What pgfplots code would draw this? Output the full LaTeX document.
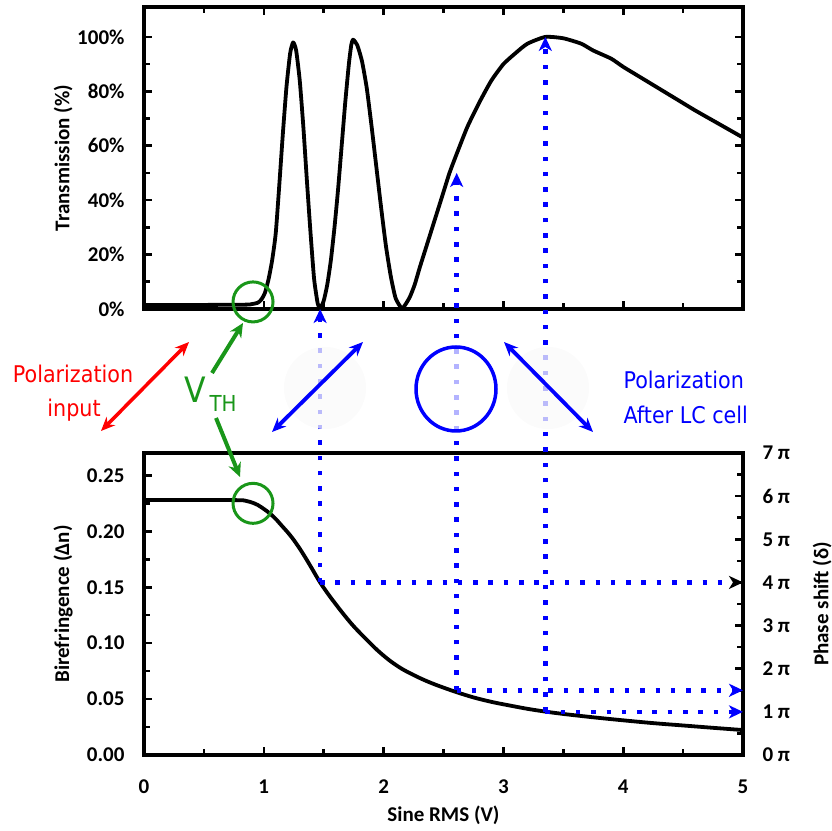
\documentclass[border=0pt]{standalone}
\usepackage{pgfplots}
\pgfplotsset{compat=1.18}
\usepackage{pgfplotstable}
\usepackage{fontspec}
\setmainfont{Carlito}
\newfontfamily\annfont[FakeStretch=0.9]{DejaVu Sans}
\usetikzlibrary{arrows.meta}

\definecolor{lcblue}{RGB}{0,0,255}
\definecolor{lcgreen}{RGB}{25,150,25}
\definecolor{lcred}{RGB}{255,0,0}

\pgfplotstableread{
x T
0.00 1.5
0.50 1.5
0.85 1.6
0.90 1.8
0.95 2.3
0.98 3.5
1.01 6
1.04 11
1.07 18
1.10 28
1.13 46
1.16 65
1.19 82
1.22 94
1.245 98
1.27 95
1.30 84
1.33 67
1.36 47
1.39 28
1.42 11
1.45 2
1.47 0.3
1.50 3
1.53 9
1.56 18
1.59 30
1.62 44
1.65 60
1.68 76
1.71 90
1.73 97
1.745 99
1.78 97
1.82 91
1.86 81
1.90 67
1.94 52
1.98 37
2.02 23
2.06 12
2.10 4
2.15 0.3
2.18 1.5
2.22 4.5
2.26 9
2.30 15
2.35 22
2.40 29
2.45 36
2.50 43
2.55 50
2.61 57
2.70 67
2.80 76
2.90 84
3.00 90
3.10 94
3.20 97.5
3.35 100
3.50 99.5
3.65 97.5
3.75 95
3.90 92
4.00 89
4.15 85
4.30 81
4.45 77
4.60 73
4.80 68
5.00 63
}\transdata

\pgfplotstableread{
x dn
0.00 0.2280
0.50 0.2280
0.80 0.2278
0.85 0.2272
0.90 0.2258
0.95 0.2235
1.00 0.2200
1.05 0.2160
1.10 0.2110
1.15 0.2050
1.20 0.1990
1.245 0.1930
1.30 0.1845
1.35 0.1760
1.40 0.1670
1.47 0.1543
1.55 0.1420
1.65 0.1280
1.745 0.1157
1.85 0.1040
1.95 0.0935
2.05 0.0845
2.15 0.0772
2.25 0.0715
2.35 0.0665
2.45 0.0622
2.60 0.0565
2.75 0.0515
2.90 0.0475
3.05 0.0443
3.20 0.0413
3.35 0.0388
3.50 0.0367
3.75 0.0337
4.00 0.0310
4.25 0.0285
4.50 0.0264
4.75 0.0243
5.00 0.0223
}\dndata

\newcommand\tickfont{\fontsize{21}{25}\selectfont\bfseries}
\newcommand\labfont{\fontsize{21}{25}\selectfont\bfseries}

\pgfplotsset{
  lcaxis/.style={
    scale only axis, width=599pt, height=302pt,
    xmin=0, xmax=5,
    axis line style={line width=3.6pt, line cap=rect},
    every tick/.style={black, line width=2.6pt},
    major tick length=8pt, minor tick length=6pt,
    tick align=inside,
    ticklabel style={font=\tickfont},
    /pgf/number format/assume math mode=true,
    clip=false,
  }
}
\tikzset{
  bdot/.style={lcblue, line width=4.5pt, dash pattern=on 4.5pt off 10.8pt},
  btip/.style={-{Stealth[length=14pt,width=13pt,inset=4pt]}},
}

\begin{document}
\begin{tikzpicture}
\useasboundingbox (0pt,0pt) rectangle (832pt,830pt);

% ---------- top axis ----------
\begin{axis}[lcaxis, at={(144pt,521pt)}, anchor=south west,
  ymin=0, ymax=111,
  ytick={0,20,40,60,80,100}, minor ytick={10,30,50,70,90},
  yticklabel={\pgfmathprintnumber{\tick}\%},
  yticklabel style={xshift=-16pt},
  xtick={0,1,2,3,4,5}, minor xtick={0.5,1.5,2.5,3.5,4.5}, xticklabels={},
  xtick pos=both, ytick pos=both,
  ylabel={Transmission (\%)},
  every axis y label/.style={at={(axis description cs:-0.135,0.5)}, rotate=90, anchor=center, font=\labfont},
]
\addplot[black, line width=3.8pt, line join=round, smooth, tension=0.35] table[x=x,y=T]{\transdata};
\coordinate (t1) at (axis cs:1.47,0);
\coordinate (t2) at (axis cs:2.61,50);
\coordinate (t3) at (axis cs:3.35,100);
\coordinate (tc) at (axis cs:0.91,2.6);
\end{axis}

% ---------- bottom axis (left) ----------
\begin{axis}[lcaxis, at={(144pt,75pt)}, anchor=south west,
  ymin=0, ymax=0.27,
  ytick={0,0.05,0.10,0.15,0.20,0.25},
  yticklabels={0.00,0.05,0.10,0.15,0.20,0.25},
  minor ytick={0.025,0.075,0.125,0.175,0.225},
  yticklabel style={xshift=-16pt},
  xtick={0,1,2,3,4,5}, minor xtick={0.5,1.5,2.5,3.5,4.5},
  xticklabel style={yshift=-21pt},
  xtick pos=bottom, ytick pos=left,
  ylabel={Birefringence (Δn)},
  every axis y label/.style={at={(axis description cs:-0.135,0.5)}, rotate=90, anchor=center, font=\labfont},
  xlabel={Sine RMS (V)},
  every axis x label/.style={at={(axis description cs:0.5,-0.2)}, anchor=center, font=\labfont},
]
\addplot[black, line width=3.8pt, smooth] table[x=x,y=dn]{\dndata};
\coordinate (bc) at (axis cs:0.91,0.225);
\end{axis}

% ---------- bottom axis (right, phase) ----------
\begin{axis}[lcaxis, at={(144pt,75pt)}, anchor=south west,
  ymin=0, ymax=7,
  axis x line=none, axis y line*=right,
  ytick={0,1,2,3,4,5,6,7},
  yticklabels={0 π,1 π,2 π,3 π,4 π,5 π,6 π,7 π},
  minor ytick={0.5,1.5,2.5,3.5,4.5,5.5,6.5},
  yticklabel style={xshift=16pt},
  ylabel={Phase shift (δ)},
  every axis y label/.style={at={(axis description cs:1.132,0.5)}, rotate=90, anchor=center, font=\labfont},
]
\draw[bdot, -{Stealth[black,length=14pt,width=13pt,inset=4pt]}] (axis cs:1.47,4) -- (axis cs:5,4);
\draw[bdot, btip] (axis cs:2.61,1.5) -- (axis cs:5,1.5);
\draw[bdot, btip] (axis cs:3.35,1) -- (axis cs:5,1);
\coordinate (b1) at (axis cs:1.47,4);
\coordinate (b2) at (axis cs:2.61,1.5);
\coordinate (b3) at (axis cs:3.35,1);
\end{axis}

% vertical guide arrows
\draw[bdot, btip] (b1) -- (t1);
\draw[bdot, btip] (b2) -- (t2);
\draw[bdot, btip] (b3) -- (t3);

% green threshold circles
\draw[lcgreen, line width=3pt] (tc) circle[radius=20pt];
\draw[lcgreen, line width=3pt] (bc) circle[radius=20pt];

% ---------- middle annotations (pixel coordinates) ----------
\begin{scope}[x=1pt, y=-1pt, shift={(0pt,830pt)}]
  % faint circles
  \fill[gray!5, fill opacity=0.75] (325,388) circle[radius=41];
  \fill[gray!5, fill opacity=0.75] (548,388) circle[radius=41];
  \draw[lcblue, line width=3.5pt, fill=white, fill opacity=0.7] (456,389) ellipse[x radius=40, y radius=42];
  % polarization arrows
  \draw[lcred, line width=3.5pt, {Stealth[length=14pt,width=12pt]}-{Stealth[length=14pt,width=12pt]}] (101,431) -- (189,342);
  \draw[lcblue, line width=3.8pt, {Stealth[length=14pt,width=12pt]}-{Stealth[length=14pt,width=12pt]}] (272,432) -- (363,342);
  \draw[lcblue, line width=3.8pt, {Stealth[length=14pt,width=12pt]}-{Stealth[length=14pt,width=12pt]}] (504,342) -- (593,432);
  % green arrows
  \draw[lcgreen, line width=4pt, -{Stealth[length=14pt,width=13pt]}] (212,373) -- (243,323);
  \draw[lcgreen, line width=4pt, -{Stealth[length=14pt,width=13pt]}] (216,418) -- (240,477);
  % texts
  \node[lcred, font=\annfont\fontsize{23}{26}\selectfont] at (73,374) {Polarization};
  \node[lcred, font=\annfont\fontsize{23}{26}\selectfont] at (74,410) {input};
  \node[lcblue, font=\annfont\fontsize{23}{26}\selectfont, anchor=west] at (620,380) {Polarization};
  \node[lcblue, font=\annfont\fontsize{23}{26}\selectfont, anchor=west] at (620,415) {After LC cell};
  \node[lcgreen, font=\annfont\fontsize{35}{40}\selectfont] at (195,390) {V};
  \node[lcgreen, font=\annfont\fontsize{22}{26}\selectfont] at (223,403) {TH};
\end{scope}
\end{tikzpicture}
\end{document}
